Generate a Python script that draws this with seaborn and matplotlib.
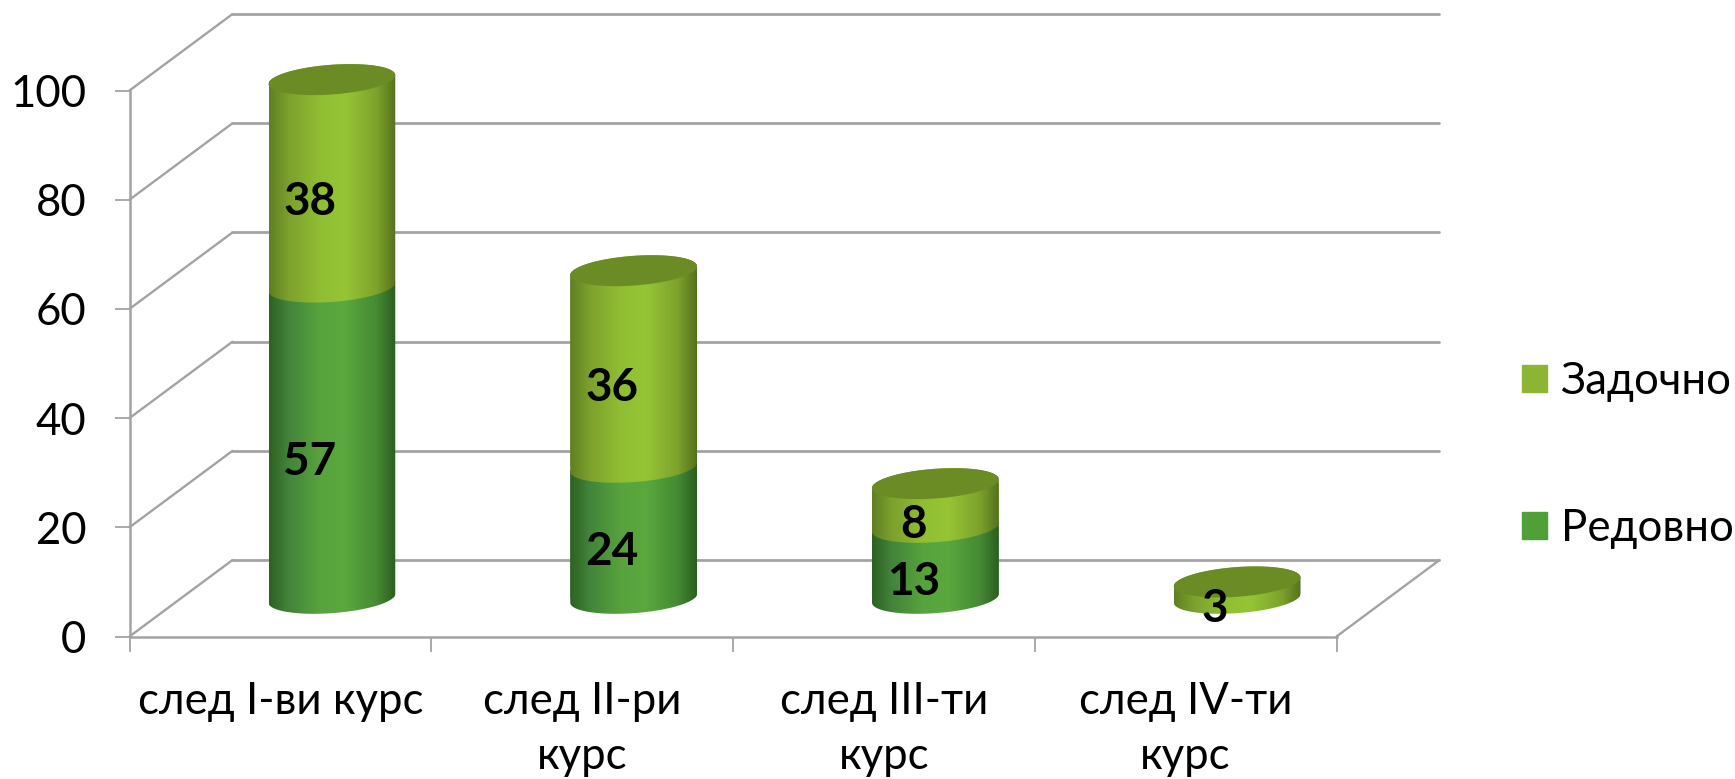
import numpy as np
import matplotlib
matplotlib.use('Agg')
import matplotlib.pyplot as plt
import seaborn as sns
from matplotlib.colors import LinearSegmentedColormap
from matplotlib.patches import Patch, PathPatch
from matplotlib.path import Path

# data
categories = ['след I-ви курс', 'след II-ри\nкурс', 'след III-ти\nкурс', 'след IV-ти\nкурс']
redovno = np.array([57, 24, 13, 0])
zadochno = np.array([38, 36, 8, 3])
y_ticks = [0, 20, 40, 60, 80, 100]

sns.set_style('white')
plt.rcParams['font.family'] = ['Lato', 'Roboto', 'DejaVu Sans']
plt.rcParams['text.color'] = 'black'
plt.rcParams['xtick.labelcolor'] = 'black'
plt.rcParams['ytick.labelcolor'] = 'black'

W, H = 1735, 779
GRID = '#a3a3a3'
FS = 31.5
FS_VAL = 33
DEPTH_X = 103 / 301.8    # wall offset, in category widths
DEPTH_Y = 14             # wall offset, in value units
BAR_W = 0.42
ELL_B = 2.72
SKEW = 3.87
PAD_BELOW = 12           # room under the bars axes for the round base

red_cmap = LinearSegmentedColormap.from_list('red', [(0, '#2d6122'), (0.15, '#42833a'), (0.4, '#57a33d'), (0.6, '#5aa83e'), (0.85, '#458a33'), (1, '#2b5e20')])
zad_cmap = LinearSegmentedColormap.from_list('zad', [(0, '#5f7f22'), (0.15, '#7ca02d'), (0.4, '#90be33'), (0.6, '#95c535'), (0.85, '#7da22c'), (1, '#54711c')])

fig = plt.figure(figsize=(W / 100, H / 100), dpi=100)
rect = [129.5 / W, (H - 636.5) / H, 1207 / W, 546 / H]
ax = fig.add_axes(rect)
ax.set_xlim(-0.5, 3.5)
ax.set_ylim(0, 100)

# walls and floor
for v in y_ticks:
    ax.plot([-0.5, -0.5 + DEPTH_X], [v, v + DEPTH_Y], color=GRID, lw=1.7, clip_on=False, solid_capstyle='round')
    ax.plot([-0.5 + DEPTH_X, 3.5 + DEPTH_X], [v + DEPTH_Y, v + DEPTH_Y], color=GRID, lw=2, clip_on=False)
ax.plot([3.5, 3.5 + DEPTH_X], [0, DEPTH_Y], color=GRID, lw=1.7, clip_on=False)

sns.despine(ax=ax, right=True, top=True)
for s in ['left', 'bottom']:
    ax.spines[s].set_color(GRID)
    ax.spines[s].set_linewidth(1.8)
ax.set_yticks(y_ticks)
ax.tick_params(axis='y', left=True, length=11, width=1.3, color=GRID, pad=20, labelsize=FS)
ax.set_xticks(range(4))
ax.set_xticklabels(categories, linespacing=1.42)
ax.set_xticks(np.arange(-0.5, 4), minor=True)
ax.tick_params(axis='x', which='major', bottom=False, length=0, pad=32, labelsize=FS)
ax.tick_params(axis='x', which='minor', bottom=True, length=11, width=1.3, color=GRID)
ax.patch.set_alpha(0)
ax.set_zorder(1)

# bars live half way into the depth
ax_bars = fig.add_axes([rect[0] + 51.5 / W, rect[1] + 38.2 / H - PAD_BELOW * 5.46 / H, rect[2], rect[3] + PAD_BELOW * 5.46 / H])
ax_bars.patch.set_alpha(0)
ax_bars.set_zorder(2)
sns.barplot(x=categories, y=redovno, ax=ax_bars, width=BAR_W, color='#50a038', linewidth=0)
n_red = len(ax_bars.patches)
sns.barplot(x=categories, y=zadochno, ax=ax_bars, width=BAR_W, color='#8bb532', linewidth=0, bottom=redovno)


def cylinder(cx, v0, v1):
    t = np.linspace(np.pi, 2 * np.pi, 60)
    xb = cx + BAR_W / 2 * np.cos(t)
    yb = v0 + ELL_B * np.sin(t) + SKEW * (xb - cx)
    t2 = np.linspace(0, np.pi, 60)
    xt = cx + BAR_W / 2 * np.cos(t2)
    yt = v1 + ELL_B * np.sin(t2) + SKEW * (xt - cx)
    return Path(np.column_stack([np.r_[xb, xt], np.r_[yb, yt]]))


def top_cap(cx, v):
    t = np.linspace(0, 2 * np.pi, 120)
    x = cx + BAR_W / 2 * np.cos(t)
    return Path(np.column_stack([x, v + ELL_B * np.sin(t) + SKEW * (x - cx)]))


grad = np.linspace(0, 1, 256).reshape(1, -1)
for i, p in enumerate(ax_bars.patches):
    if p.get_height() == 0:
        p.set_visible(False)
        continue
    cx = p.get_x() + p.get_width() / 2
    v0, v1 = p.get_y(), p.get_y() + p.get_height()
    path = cylinder(cx, v0, v1)
    p.set_clip_path(path, transform=ax_bars.transData)
    cmap = red_cmap if i < n_red else zad_cmap
    z = 3 + i * 0.01
    im = ax_bars.imshow(grad, extent=[cx - BAR_W / 2, cx + BAR_W / 2, v0 - 10, v1 + 10], cmap=cmap,
                        aspect='auto', zorder=z, interpolation='bilinear')
    im.set_clip_path(path, transform=ax_bars.transData)
    if i >= n_red:
        ax_bars.add_patch(PathPatch(top_cap(cx, v1), fc='#6b8c25', ec='none', zorder=z + 0.005))

ax_bars.set_xlim(-0.5, 3.5)
ax_bars.set_ylim(-PAD_BELOW, 100)
ax_bars.axis('off')

# value labels
for i in range(4):
    if redovno[i] > 0:
        ax_bars.text(i - 0.073, redovno[i] / 2 - 3.5, str(redovno[i]), ha='center', va='center',
                     fontsize=FS_VAL, fontweight='bold', color='black', zorder=6)
    ax_bars.text(i - 0.073, redovno[i] + zadochno[i] / 2 - 3.5, str(zadochno[i]), ha='center', va='center',
                 fontsize=FS_VAL, fontweight='bold', color='black', zorder=6)

handles = [Patch(color='#8bb532', label='Задочно'), Patch(color='#50a038', label='Редовно')]
fig.legend(handles=handles, loc='center left', bbox_to_anchor=(1522 / W, 1 - 455 / H), frameon=False, fontsize=FS,
           handlelength=0.58, handleheight=0.58, handletextpad=0.3, labelspacing=2.42, borderpad=0, borderaxespad=0)

fig.savefig('out.png', dpi=100)
